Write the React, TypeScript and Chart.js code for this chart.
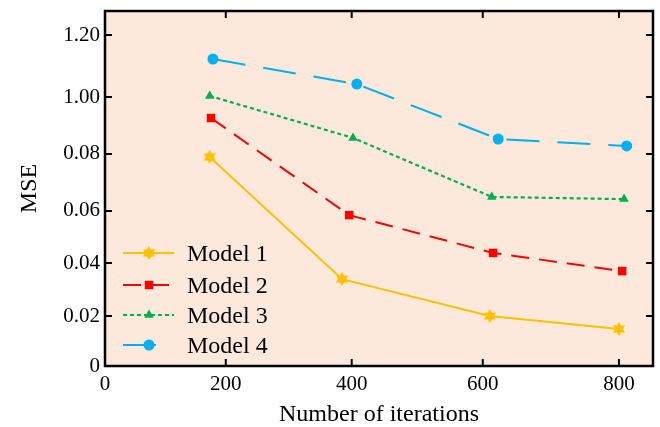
import React, { useEffect, useRef } from 'react';
import { Chart, registerables } from 'chart.js';

Chart.register(...registerables);

// ---- data (in the axis units of the picture) ----
const xTickValues = [0, 188, 384, 588, 800];
const xTickLabels = ['0', '200', '400', '600', '800'];
const yTickValues = [0, 0.0181, 0.0373, 0.0562, 0.0769, 0.0975, 0.12];
const yTickLabels = ['0', '0.02', '0.04', '0.06', '0.08', '1.00', '1.20'];
const seriesNames = ['Model 1', 'Model 2', 'Model 3', 'Model 4'];

const model1X = [163, 369, 599, 800];
const model1Y = [0.0758, 0.0315, 0.0181, 0.0134];
const model2X = [165, 380, 604, 805];
const model2Y = [0.0899, 0.0547, 0.041, 0.0344];
const model3X = [163, 386, 602, 808];
const model3Y = [0.0979, 0.0827, 0.0613, 0.0605];
const model4X = [168, 392, 612, 812];
const model4Y = [0.1113, 0.1022, 0.0823, 0.0798];

const FONT = "'Liberation Serif', 'Times New Roman', serif";

function makeStar(size: number, color: string) {
  const c = document.createElement('canvas');
  c.width = size;
  c.height = size;
  const ctx = c.getContext('2d')!;
  const cx = size / 2, cy = size / 2, r = size / 2;
  ctx.fillStyle = color;
  for (const off of [-Math.PI / 2, Math.PI / 2]) {
    ctx.beginPath();
    for (let i = 0; i < 3; i++) {
      const a = off + (i * 2 * Math.PI) / 3;
      const px = cx + r * Math.cos(a), py = cy + r * Math.sin(a);
      if (i === 0) ctx.moveTo(px, py); else ctx.lineTo(px, py);
    }
    ctx.closePath();
    ctx.fill();
  }
  return c;
}

function drawMarker(ctx: CanvasRenderingContext2D, style: any, x: number, y: number, r: number, color: string) {
  ctx.save();
  ctx.fillStyle = color;
  if (typeof style !== 'string') {
    ctx.drawImage(style, x - style.width / 2, y - style.height / 2);
  } else if (style === 'rect') {
    const s = Math.SQRT1_2 * r;
    ctx.fillRect(x - s, y - s, 2 * s, 2 * s);
  } else if (style === 'triangle') {
    ctx.beginPath();
    for (let i = 0; i < 3; i++) {
      const a = -Math.PI / 2 + (i * 2 * Math.PI) / 3;
      const px = x + r * Math.cos(a), py = y + r * Math.sin(a);
      if (i === 0) ctx.moveTo(px, py); else ctx.lineTo(px, py);
    }
    ctx.closePath();
    ctx.fill();
  } else {
    ctx.beginPath();
    ctx.arc(x, y, r, 0, Math.PI * 2);
    ctx.fill();
  }
  ctx.restore();
}

const framePlugin = {
  id: 'frame',
  beforeDatasetsDraw(chart: any) {
    const { ctx, chartArea: a } = chart;
    ctx.save();
    ctx.fillStyle = '#FCE9DC';
    ctx.fillRect(a.left, a.top, a.right - a.left, a.bottom - a.top);
    ctx.restore();
  },
  afterDatasetsDraw(chart: any) {
    const { ctx, chartArea: a } = chart;
    ctx.save();
    ctx.strokeStyle = '#000';
    ctx.lineWidth = 2;
    const xs = chart.scales.x, ys = chart.scales.y;
    ctx.beginPath();
    xs.ticks.forEach((t: any) => {
      const px = xs.getPixelForValue(t.value);
      ctx.moveTo(px, a.bottom); ctx.lineTo(px, a.bottom - 7);
      ctx.moveTo(px, a.top); ctx.lineTo(px, a.top + 7);
    });
    ys.ticks.forEach((t: any) => {
      const py = ys.getPixelForValue(t.value);
      ctx.moveTo(a.left, py); ctx.lineTo(a.left + 7, py);
      ctx.moveTo(a.right, py); ctx.lineTo(a.right - 7, py);
    });
    ctx.stroke();
    ctx.lineWidth = 2.5;
    ctx.strokeRect(a.left, a.top, a.right - a.left, a.bottom - a.top);
    ctx.restore();
  },
  afterDraw(chart: any) {
    const ctx = chart.ctx as CanvasRenderingContext2D;
    const rows = [253, 285, 315, 345];
    chart.data.datasets.forEach((ds: any, i: number) => {
      const y = rows[i];
      ctx.save();
      ctx.strokeStyle = ds.borderColor;
      ctx.lineWidth = ds.borderWidth;
      ctx.setLineDash(ds.borderDash || []);
      ctx.beginPath();
      ctx.moveTo(123, y);
      ctx.lineTo(174, y);
      ctx.stroke();
      ctx.setLineDash([]);
      drawMarker(ctx, ds.pointStyle, 149, y, ds.pointRadius, ds.backgroundColor);
      ctx.fillStyle = '#000';
      ctx.font = `24px ${FONT}`;
      ctx.textBaseline = 'alphabetic';
      ctx.textAlign = 'left';
      ctx.fillText(ds.label, 187, y + 8);
      ctx.restore();
    });
  },
};

function pts(xs: number[], ys: number[]) {
  return xs.map((x, i) => ({ x, y: ys[i] }));
}

export default function App() {
  const ref = useRef<HTMLCanvasElement>(null);
  useEffect(() => {
    if (!ref.current) return;
    const star = makeStar(14, '#FFC000');
    const chart = new Chart(ref.current, {
      type: 'line',
      data: {
        datasets: [
          {
            label: seriesNames[0], data: pts(model1X, model1Y),
            borderColor: '#FFC000', backgroundColor: '#FFC000', borderWidth: 2,
            pointStyle: star as any, pointRadius: 7, pointBorderWidth: 0, tension: 0,
          },
          {
            label: seriesNames[1], data: pts(model2X, model2Y),
            borderColor: '#FF0000', backgroundColor: '#FF0000', borderWidth: 2, borderDash: [18, 10],
            pointStyle: 'rect', pointRadius: 6, pointBorderWidth: 0, tension: 0,
          },
          {
            label: seriesNames[2], data: pts(model3X, model3Y),
            borderColor: '#00B050', backgroundColor: '#00B050', borderWidth: 2.2, borderDash: [4, 3],
            pointStyle: 'triangle', pointRadius: 5.5, pointBorderWidth: 0, tension: 0,
          },
          {
            label: seriesNames[3], data: pts(model4X, model4Y),
            borderColor: '#00B0F0', backgroundColor: '#00B0F0', borderWidth: 2, borderDash: [33, 18],
            pointStyle: 'circle', pointRadius: 5.5, pointBorderWidth: 0, tension: 0,
          },
        ] as any,
      },
      options: {
        animation: false,
        responsive: false,
        maintainAspectRatio: false,
        layout: { padding: { top: 11, right: 7, left: 0, bottom: 0 } },
        plugins: { legend: { display: false }, tooltip: { enabled: false } },
        scales: {
          x: {
            type: 'linear', min: 0, max: 853,
            grid: { display: false, drawTicks: false },
            border: { display: false },
            afterBuildTicks: (s: any) => { s.ticks = xTickValues.map((v) => ({ value: v })); },
            afterFit: (s: any) => { s.height = 61; s.paddingLeft = 0; s.paddingRight = 0; },
            ticks: {
              autoSkip: false, maxRotation: 0, minRotation: 0, padding: 6, color: '#000',
              font: { family: FONT, size: 21 },
              callback: (_v: any, i: number) => xTickLabels[i],
            },
            title: {
              display: true, text: 'Number of iterations', color: '#000',
              font: { family: FONT, size: 24, lineHeight: 1 }, padding: 0,
            },
          },
          y: {
            type: 'linear', min: 0, max: 0.1287,
            grid: { display: false, drawTicks: false },
            border: { display: false },
            afterBuildTicks: (s: any) => { s.ticks = yTickValues.map((v) => ({ value: v })); },
            afterFit: (s: any) => { s.width = 105; s.paddingTop = 0; s.paddingBottom = 0; },
            ticks: {
              autoSkip: false, padding: 5, color: '#000',
              font: { family: FONT, size: 21 },
              callback: (_v: any, i: number) => yTickLabels[i],
            },
            title: {
              display: true, text: 'MSE', color: '#000',
              font: { family: FONT, size: 24, lineHeight: 1 }, padding: { top: 18, bottom: 0 },
            },
          },
        },
      },
      plugins: [framePlugin],
    });
    return () => chart.destroy();
  }, []);
  return (
    <div style={{ position: 'fixed', left: 0, top: 0, width: 660, height: 427, background: '#fff' }}>
      <canvas ref={ref} width={660} height={427} style={{ display: 'block' }} />
    </div>
  );
}
